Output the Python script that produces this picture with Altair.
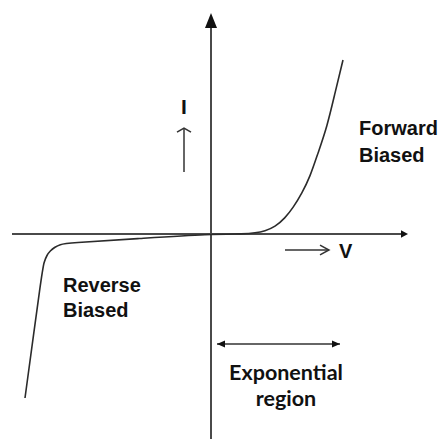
import altair as alt
import pandas as pd

# Diode I-V characteristic (schematic), data units: V horizontal, I vertical
curve_v = [-18.6, -16.9, -16.7, -16.4, -16.1, -15.6, -15.1, -14.4, -7.1, 0.0,
           3.4, 4.4, 5.4, 6.4, 7.4, 8.2, 9.1, 9.9, 10.7, 11.6, 12.4, 13.2]
curve_i = [-16.4, -3.8, -2.8, -2.1, -1.7, -1.3, -1.05, -0.9, -0.45, 0.0,
           0.0, 0.1, 0.3, 0.7, 1.6, 2.6, 4.1, 5.7, 8.1, 10.7, 14.1, 17.4]

# axis extents (data units)
axis_v_range = [-19.9, 19.1]
axis_i_range = [-20.5, 20.6]
axis_tips_v = [0.0, 19.7]
axis_tips_i = [22.1, 0.0]

# small direction arrows
i_arrow_v = -2.7
i_arrow_range = [6.2, 10.6]
v_arrow_i = -1.6
v_arrow_range = [7.4, 11.8]
exp_arrow_i = -11.0
exp_arrow_range = [0.6, 12.9]

labels_text = ["I", "V", "Forward", "Biased", "Reverse", "Biased"]
labels_v = [-2.7, 12.8, 14.8, 14.8, -14.8, -14.8]
labels_i = [12.0, -2.4, 9.9, 7.2, -5.8, -8.3]
labels_align = ["center", "left", "left", "left", "left", "left"]

region_text = ["Exponential", "region"]
region_v = [7.5, 7.5]
region_i = [-14.6, -17.15]

xs = alt.Scale(domain=[-20.3, 22.9], nice=False, zero=False)
ys = alt.Scale(domain=[-20.5, 22.6], nice=False, zero=False)
X = lambda f: alt.X(f, type="quantitative", scale=xs, axis=None)
Y = lambda f: alt.Y(f, type="quantitative", scale=ys, axis=None)

AXIS_COLOR = "#4a4a4a"
INK = "#111111"

curve = alt.Chart(pd.DataFrame({"v": curve_v, "i": curve_i})).mark_line(
    color="#2b2b2b", strokeWidth=1.6, interpolate="basis"
).encode(x=X("v"), y=Y("i"), order="v:Q")

axes_df = pd.DataFrame({
    "v": [axis_v_range[0], 0.0], "v2": [axis_v_range[1], 0.0],
    "i": [0.0, axis_i_range[0]], "i2": [0.0, axis_i_range[1]],
})
axes = alt.Chart(axes_df).mark_rule(color=AXIS_COLOR, strokeWidth=2).encode(
    x=X("v"), x2="v2", y=Y("i"), y2="i2")

tip_up = alt.Chart(pd.DataFrame({"v": [axis_tips_v[0]], "i": [axis_tips_i[0]]})).mark_point(
    shape="M0,0L-0.4,1L0.4,1Z", size=900, filled=True, color="#111", opacity=1, strokeWidth=0
).encode(x=X("v"), y=Y("i"))
tip_right = alt.Chart(pd.DataFrame({"v": [axis_tips_v[1]], "i": [axis_tips_i[1]]})).mark_point(
    shape="M0,0L-1,-0.55L-1,0.55Z", size=196, filled=True, color="#111", opacity=1, strokeWidth=0
).encode(x=X("v"), y=Y("i"))

small_df = pd.DataFrame({
    "v": [i_arrow_v, v_arrow_range[0], exp_arrow_range[0]],
    "v2": [i_arrow_v, v_arrow_range[1], exp_arrow_range[1]],
    "i": [i_arrow_range[0], v_arrow_i, exp_arrow_i],
    "i2": [i_arrow_range[1], v_arrow_i, exp_arrow_i],
})
small = alt.Chart(small_df).mark_rule(color="#333", strokeWidth=1.5).encode(
    x=X("v"), x2="v2", y=Y("i"), y2="i2")

chev_up = alt.Chart(pd.DataFrame({"v": [i_arrow_v], "i": [i_arrow_range[1]]})).mark_point(
    shape="M-1,0.6L0,0L1,0.6", size=196, filled=False, color="#333", opacity=1, strokeWidth=1.5
).encode(x=X("v"), y=Y("i"))
chev_right = alt.Chart(pd.DataFrame({"v": [v_arrow_range[1]], "i": [v_arrow_i]})).mark_point(
    shape="M-1,-0.55L0,0L-1,0.55", size=324, filled=False, color="#333", opacity=1, strokeWidth=1.5
).encode(x=X("v"), y=Y("i"))

head_l = alt.Chart(pd.DataFrame({"v": [exp_arrow_range[0]], "i": [exp_arrow_i]})).mark_point(
    shape="M0,0L2,-0.9L2,0.9Z", size=64, filled=True, color="#111", opacity=1, strokeWidth=0
).encode(x=X("v"), y=Y("i"))
head_r = alt.Chart(pd.DataFrame({"v": [exp_arrow_range[1]], "i": [exp_arrow_i]})).mark_point(
    shape="M0,0L-2,-0.9L-2,0.9Z", size=64, filled=True, color="#111", opacity=1, strokeWidth=0
).encode(x=X("v"), y=Y("i"))

lab_df = pd.DataFrame({"t": labels_text, "v": labels_v, "i": labels_i, "a": labels_align})
labels_c = alt.Chart(lab_df[lab_df.a == "center"]).mark_text(
    font="Liberation Sans", fontWeight="bold", fontSize=21, color=INK,
    align="center", baseline="alphabetic"
).encode(x=X("v"), y=Y("i"), text="t:N")
labels_l = alt.Chart(lab_df[lab_df.a == "left"]).mark_text(
    font="Liberation Sans", fontWeight="bold", fontSize=20, color=INK,
    align="left", baseline="alphabetic"
).encode(x=X("v"), y=Y("i"), text="t:N")

region = alt.Chart(pd.DataFrame({"t": region_text, "v": region_v, "i": region_i})).mark_text(
    font="Lato", fontWeight="bold", fontSize=21.5, color=INK,
    align="center", baseline="alphabetic"
).encode(x=X("v"), y=Y("i"), text="t:N")

chart = alt.layer(
    axes, tip_up, tip_right, curve, small, chev_up, chev_right, head_l, head_r,
    labels_c, labels_l, region
).properties(
    width=432, height=431, padding=0, autosize=alt.AutoSizeParams(type="none"),
    background="white"
).configure_view(stroke=None)

chart.save("out.html", embed_options={"renderer": "svg", "actions": False})
